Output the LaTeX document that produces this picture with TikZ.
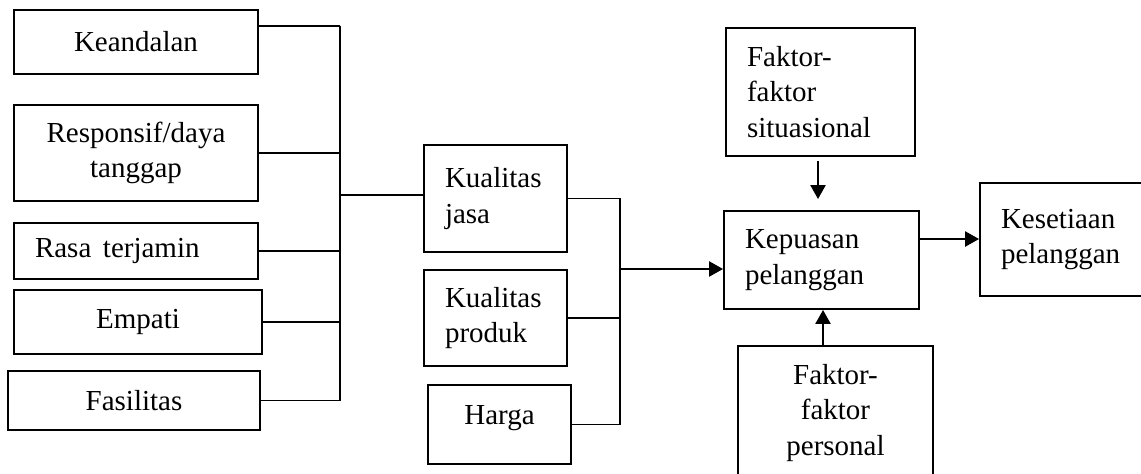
\documentclass[tikz,border=0pt]{standalone}
\usepackage{fontspec}
\setmainfont{Liberation Serif}
\usetikzlibrary{arrows.meta}
\begin{document}
\begin{tikzpicture}[x=0.02cm, y=-0.02cm]
\tikzset{kotak/.style={draw, line width=1.1pt, inner sep=0pt, font=\fontsize{16.5}{20.2}\selectfont},
  kiri/.style={align=left, inner xsep=0.42cm},
  garis/.style={line width=1.1pt},
  panah/.style={line width=1.4pt, -{Triangle[length=0.28cm, width=0.3cm]}}}
\useasboundingbox (0,0) rectangle (1141,473);
\clip (0,0) rectangle (1141,473);
\node[kotak, minimum width=4.88cm, minimum height=1.28cm] (K1) at (136,42) {Keandalan};
\node[kotak, minimum width=4.88cm, minimum height=1.92cm, align=center] (K2) at (136,153) {Responsif/daya\\tanggap};
\node[kotak, kiri, text width=4.04cm, minimum height=1.12cm] (K3) at (136,251) {Rasa\hspace{0.4em}terjamin};
\node[kotak, minimum width=4.96cm, minimum height=1.28cm] (K4) at (138,322) {Empati};
\node[kotak, minimum width=5.04cm, minimum height=1.18cm] (K5) at (134,400.5) {Fasilitas};
\node[kotak, kiri, text width=2.02cm, minimum height=2.14cm] (Q1) at (495.5,198.5) {Kualitas\\jasa};
\node[kotak, kiri, text width=2.02cm, minimum height=1.92cm] (Q2) at (495.5,318) {Kualitas\\produk};
\node[kotak, minimum width=2.86cm, minimum height=1.58cm, text depth=0.38cm] (Q3) at (499.5,424.5) {Harga};
\node[kotak, kiri, text width=2.94cm, minimum height=2.56cm] (F1) at (820.5,92) {Faktor-\\faktor\\situasional};
\node[kotak, kiri, text width=3.06cm, minimum height=1.96cm] (P) at (821.5,260) {Kepuasan\\pelanggan};
\node[kotak, minimum width=3.9cm, minimum height=2.68cm, align=center] (F2) at (835.5,413) {Faktor-\\faktor\\personal};
\node[kotak, kiri, text width=2.96cm, minimum height=2.26cm] (S) at (1075,239.5) {Kesetiaan\\pelanggan};
\coordinate (busA) at (340,26);
\coordinate (hubA) at (340,195);
\coordinate (busC) at (620,0);
\coordinate (hubB) at (620,269);
\draw[garis] (busA) -- (busA |- K5.east);
\draw[garis] (K1.east |- busA) -- (busA);
\foreach \k in {K2,K3,K4,K5}
  \draw[garis] (\k.east) -- (\k.east -| busA);
\draw[garis] (hubA) -- (hubA -| Q1.west);
\draw[garis] (Q1.east) -| (busC |- Q3.east) -- (Q3.east);
\draw[garis] (Q2.east) -- (Q2.east -| busC);
\draw[panah] (hubB) -- (hubB -| P.west);
\draw[panah, shorten <=0.08cm, shorten >=0.22cm] ([xshift=-0.05cm]F1.south) -- ([xshift=-0.05cm]F1.south |- P.north);
\draw[panah] ([xshift=-0.25cm]F2.north) -- ([xshift=-0.25cm]F2.north |- P.south);
\draw[panah] ([yshift=0.42cm]P.east) -- ([yshift=0.42cm]P.east -| S.west);
\end{tikzpicture}
\end{document}
